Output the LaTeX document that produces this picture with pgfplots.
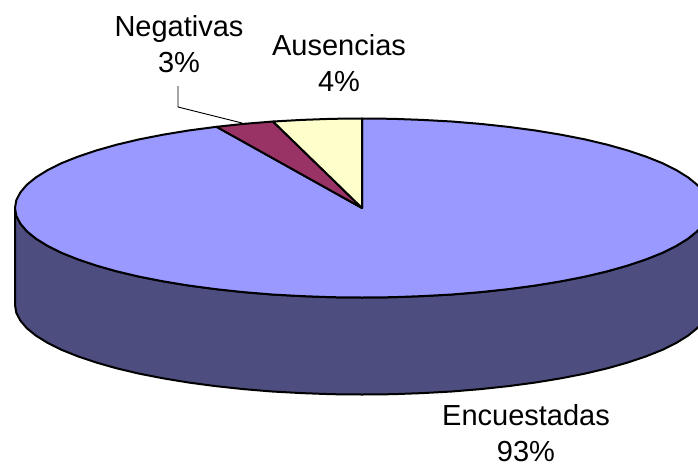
\documentclass[border=0pt]{standalone}
\usepackage{fontspec}
\setmainfont{Liberation Sans}
\usepackage{pgfplots}
\usepackage{pgfplotstable}
\pgfplotsset{compat=1.18}

% outlines, in pixels of the 698x467 image
\pgfplotstableread{
x y
15 208
16.3 215.8
20.3 223.5
26.8 231.2
35.9 238.6
47.5 245.8
61.5 252.8
77.8 259.3
96.2 265.5
116.6 271.3
139 276.6
163 281.3
188.5 285.5
215.4 289.1
243.3 292.1
272.2 294.5
301.7 296.1
331.8 297.2
362 297.5
392.2 297.2
422.3 296.1
451.8 294.5
480.7 292.1
508.6 289.1
535.5 285.5
561 281.3
585 276.6
607.4 271.3
627.8 265.5
646.2 259.3
662.5 252.8
676.5 245.8
688.1 238.6
697.2 231.2
703.7 223.5
707.7 215.8
709 208
709 305
707.7 312.8
703.7 320.5
697.2 328.2
688.1 335.6
676.5 342.8
662.5 349.8
646.2 356.3
627.8 362.5
607.4 368.3
585 373.6
561 378.3
535.5 382.5
508.6 386.1
480.7 389.1
451.8 391.5
422.3 393.1
392.2 394.2
362 394.5
331.8 394.2
301.7 393.1
272.2 391.5
243.3 389.1
215.4 386.1
188.5 382.5
163 378.3
139 373.6
116.6 368.3
96.2 362.5
77.8 356.3
61.5 349.8
47.5 342.8
35.9 335.6
26.8 328.2
20.3 320.5
16.3 312.8
15 305
}\sidewall

\pgfplotstableread{
x y
362 208
362 118.5
392.2 118.8
422.3 119.9
451.8 121.5
480.7 123.9
508.6 126.9
535.5 130.5
561 134.7
585 139.4
607.4 144.7
627.8 150.5
646.2 156.7
662.5 163.2
676.5 170.2
688.1 177.4
697.2 184.8
703.7 192.5
707.7 200.2
709 208
707.7 215.8
703.7 223.5
697.2 231.2
688.1 238.6
676.5 245.8
662.5 252.8
646.2 259.3
627.8 265.5
607.4 271.3
585 276.6
561 281.3
535.5 285.5
508.6 289.1
480.7 292.1
451.8 294.5
422.3 296.1
392.2 297.2
362 297.5
331.8 297.2
301.7 296.1
272.2 294.5
243.3 292.1
215.4 289.1
188.5 285.5
163 281.3
139 276.6
116.6 271.3
96.2 265.5
77.8 259.3
61.5 252.8
47.5 245.8
35.9 238.6
26.8 231.2
20.3 223.5
16.3 215.8
15 208
16.3 200.2
20.3 192.5
26.8 184.8
35.9 177.4
47.5 170.2
61.5 163.2
77.8 156.7
96.2 150.5
116.6 144.7
139 139.4
163 134.7
188.5 130.5
216.5 126.8
}\encuestadas

\pgfplotstableread{
x y
362 208
216.5 126.8
243.3 123.9
273 121.5
}\negativas

\pgfplotstableread{
x y
362 208
273 121.5
301.7 119.9
331.8 118.8
362 118.5
}\ausencias

\definecolor{sliceblue}{HTML}{9999FF}
\definecolor{slicedark}{HTML}{4D4D80}
\definecolor{slicered}{HTML}{993366}
\definecolor{sliceyellow}{HTML}{FFFFCC}

\tikzset{
    pie/.style={draw=black, line width=2pt, line join=round},
    lbl/.style={font=\fontsize{29}{36}\selectfont, align=center, text=black, inner sep=0pt, anchor=center}
}

\begin{document}
\begin{tikzpicture}
\begin{axis}[
    hide axis,
    scale only axis,
    width=698pt, height=467pt,
    xmin=0, xmax=698,
    ymin=0, ymax=467,
    y dir=reverse,
    enlargelimits=false
]
\addplot[pie, fill=slicedark] table {\sidewall} -- cycle;
\addplot[pie, fill=sliceblue] table {\encuestadas} -- cycle;
\addplot[pie, fill=slicered] table {\negativas} -- cycle;
\addplot[pie, fill=sliceyellow] table {\ausencias} -- cycle;
\addplot[black, line width=0.9pt] coordinates {(178,86) (178,107) (242,123)};

\node[lbl] at (axis cs:179,44) {Negativas\\3\%};
\node[lbl] at (axis cs:339,63) {Ausencias\\4\%};
\node[lbl] at (axis cs:526,433) {Encuestadas\\93\%};
\end{axis}
\pgfresetboundingbox
\path[use as bounding box] (0,0) rectangle (698pt,467pt);
\end{tikzpicture}
\end{document}
